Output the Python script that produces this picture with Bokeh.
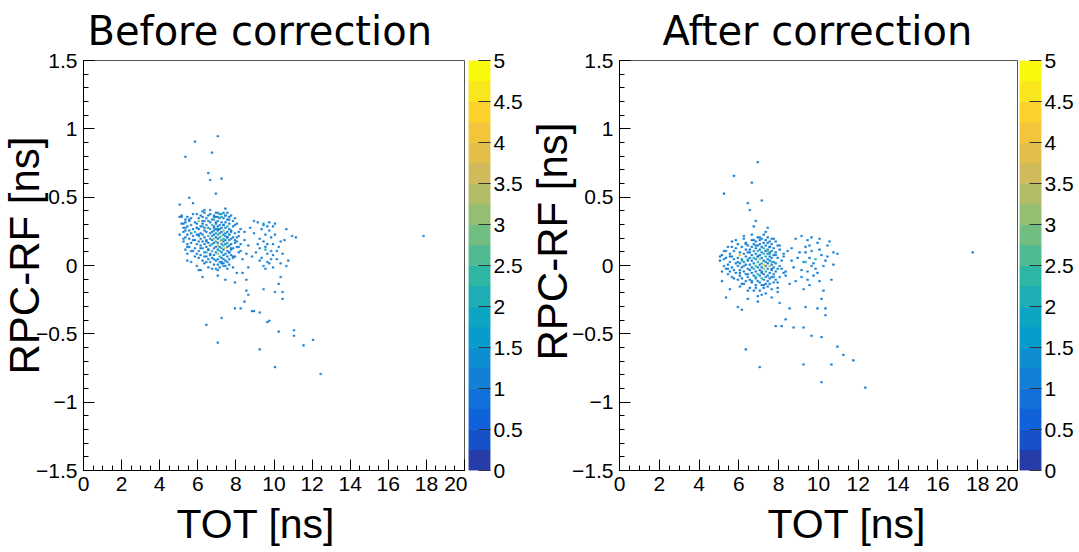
import math
from bokeh.plotting import figure
from bokeh.layouts import row
from bokeh.models import SingleIntervalTicker, FixedTicker, Title, ColumnDataSource, CustomJSTickFormatter
from bokeh.transform import linear_cmap
from bokeh.embed import file_html
from bokeh.resources import INLINE

# ---------------- data ----------------
BIN_W = 0.1    # TOT bin width [ns]
BIN_H = 0.012  # RPC-RF bin width [ns]

# colour-bar contour levels
z_levels = [0, 0.25, 0.5, 0.75, 1.0, 1.25, 1.5, 1.75, 2.0, 2.25, 2.5,
            2.75, 3.0, 3.25, 3.5, 3.75, 4.0, 4.25, 4.5, 4.75, 5.0]
z_ticks = [0, 0.5, 1, 1.5, 2, 2.5, 3, 3.5, 4, 4.5, 5]

# "Before correction": main cluster, rows of single-entry bins
before_row_dt = [0.38, 0.37, 0.36, 0.35, 0.34, 0.33, 0.32, 0.31, 0.30, 0.29,
                 0.28, 0.27, 0.26, 0.25, 0.24, 0.23, 0.22, 0.21, 0.20, 0.19,
                 0.18, 0.17, 0.16, 0.15, 0.14, 0.13, 0.12, 0.11, 0.10, 0.09,
                 0.08, 0.07, 0.06, 0.05, 0.04, 0.03, 0.02, 0.01, 0.00, -0.01,
                 -0.02, -0.03, -0.04]
before_row_tot = [
    [6.3, 6.9, 7.0, 7.3, 7.5],
    [5.7, 6.6, 7.1],
    [6.1, 6.5, 6.8, 7.4, 7.7],
    [5.0, 5.1, 5.4, 6.2, 6.9, 7.0, 7.6],
    [5.6, 6.0, 6.4, 7.1, 7.3, 7.9],
    [5.3, 6.7, 7.5],
    [5.5, 6.3, 6.5, 7.0, 7.8],
    [5.8, 6.6, 7.2, 7.4],
    [5.2, 5.9, 6.2, 6.9, 7.6, 8.0],
    [5.6, 6.4, 7.1, 7.3],
    [5.4, 6.1, 6.8, 7.0, 7.8],
    [5.3, 5.9, 6.5, 7.2, 7.4],
    [5.7, 6.0, 6.9, 7.1, 7.6, 8.2],
    [5.5, 6.3, 6.8, 7.0, 7.7],
    [5.2, 6.4, 6.7, 7.2, 7.5],
    [5.6, 6.1, 6.6, 7.1, 7.4, 7.9],
    [5.4, 5.9, 6.2, 6.8, 7.3, 7.6],
    [5.7, 6.0, 6.7, 7.4, 8.1],
    [5.3, 6.3, 6.9, 7.5, 7.8],
    [5.5, 6.1, 6.6, 7.0, 7.7],
    [5.8, 6.4, 6.7, 7.4, 7.6],
    [5.2, 6.0, 6.2, 7.3, 8.0],
    [5.6, 6.5, 6.8, 7.0, 7.9],
    [5.4, 5.9, 6.3, 7.2, 7.4, 7.7],
    [6.1, 6.6, 7.6],
    [5.5, 6.4, 6.9, 7.1, 7.5, 8.0],
    [5.8, 6.2, 6.8, 7.8],
    [5.3, 6.5, 7.0, 7.3, 7.7],
    [5.7, 6.0, 7.5],
    [6.3, 6.9, 7.2, 7.6, 8.1],
    [5.9, 6.6, 7.4],
    [6.1, 6.8, 7.3, 7.7],
    [6.4, 7.5, 7.9],
    [6.0, 6.7, 7.2, 7.8],
    [6.5, 7.0, 7.3, 7.6],
    [5.4, 6.2, 6.9, 7.4],
    [6.6, 7.1, 7.5],
    [6.3, 7.2, 7.3],
    [6.8, 7.0, 7.6],
    [5.9, 7.3, 7.4],
    [6.5, 7.1, 7.8],
    [6.7, 7.5],
    [6.1, 7.0],
]
# "Before correction": scattered single-entry bins
before_sc_tot = [7.0, 5.8, 6.7, 5.3, 6.5, 6.6, 7.2, 6.9, 5.5, 5.7,
                 5.0, 7.4, 6.3, 8.5, 9.4, 10.0, 10.4, 8.6, 8.4, 10.4,
                 7.9, 8.2, 8.8, 8.9, 9.2, 7.2, 9.7, 9.6, 6.4, 10.2,
                 11.0, 11.0, 12.0, 11.5, 7.0, 9.2, 10.0, 12.4, 17.8, 8.5,
                 7.9, 10.3, 10.2, 7.4, 7.0, 6.2, 6.0, 8.6, 10.6, 8.0,
                 8.9, 9.1, 9.4, 9.7, 10.0, 9.6, 9.9, 10.6, 10.9, 11.1,
                 8.4, 8.9, 9.2, 9.5, 9.8, 10.3, 9.6, 9.9, 9.1, 9.2,
                 9.5, 9.8, 10.2, 9.6, 9.3, 9.6, 9.7, 9.4, 9.9, 9.2,
                 8.8, 8.5, 8.3, 8.1, 8.0, 8.4, 8.6, 10.4, 10.1, 10.3,
                 10.7, 9.0, 9.4, 10.0, 9.7, 9.3, 10.5, 8.7, 9.9, 10.1,
                 9.5, 9.8, 5.1, 5.3, 5.2, 5.0, 5.6, 5.4, 8.2, 8.3,
                 5.1, 5.3, 5.2, 5.4, 5.6, 5.8, 5.5, 5.9, 6.2, 6.6,
                 6.8, 7.6, 7.9, 8.1, 7.9, 8.2, 7.8, 7.2, 6.4, 6.1,
                 6.3, 6.9, 7.3, 6.4, 6.6, 6.0, 6.8, 7.7, 7.5, 6.2,
                 5.7, 6.9, 7.6, 6.3, 7.0, 6.5, 5.9, 7.4, 6.8, 7.7]
before_sc_dt = [0.94, 0.90, 0.82, 0.79, 0.67, 0.62, 0.63, 0.52, 0.49, 0.45,
                0.44, 0.41, 0.40, -0.19, -0.18, -0.20, -0.20, -0.22, -0.27, -0.25,
                -0.32, -0.32, -0.34, -0.34, -0.35, -0.39, -0.41, -0.42, -0.44, -0.49,
                -0.48, -0.52, -0.55, -0.59, -0.57, -0.62, -0.75, -0.80, 0.21, -0.11,
                -0.13, -0.09, -0.14, -0.11, -0.08, -0.09, -0.04, -0.02, -0.01, -0.06,
                0.32, 0.31, 0.29, 0.31, 0.30, 0.28, 0.28, 0.26, 0.21, 0.20,
                0.24, 0.23, 0.19, 0.22, 0.20, 0.17, 0.15, 0.15, 0.15, 0.12,
                0.13, 0.10, 0.13, 0.08, 0.05, 0.02, 0.01, -0.01, -0.02, 0.03,
                0.06, 0.08, 0.04, 0.13, 0.20, 0.18, 0.14, 0.08, 0.04, 0.01,
                0.03, 0.09, 0.17, 0.22, 0.25, 0.26, 0.18, 0.27, 0.07, 0.10,
                -0.03, 0.04, 0.36, 0.31, 0.27, 0.22, 0.02, 0.08, 0.10, -0.06,
                0.30, 0.25, 0.19, 0.13, 0.10, 0.06, 0.33, 0.37, 0.39, 0.40,
                0.35, 0.33, 0.29, 0.24, 0.18, 0.15, 0.06, 0.02, 0.02, 0.12,
                0.27, 0.31, 0.29, 0.17, 0.07, 0.22, 0.04, 0.12, 0.20, 0.32,
                0.18, -0.03, 0.09, 0.06, 0.26, 0.11, 0.27, 0.36, 0.27, 0.24]
# "Before correction": bins with more than one entry
before_hot_tot = [7.2, 7.2, 6.8, 6.0, 6.7, 7.5, 6.6, 7.3, 5.8, 6.9,
                  7.0, 6.5, 7.2, 7.1, 6.8, 7.3, 7.2, 6.9, 7.1, 7.5,
                  6.7, 7.0, 7.3, 7.2, 7.4, 6.7, 7.1, 7.0, 7.1, 9.5,
                  6.2, 5.6, 7.6, 6.4, 9.4]
before_hot_dt = [0.37, 0.35, 0.33, 0.32, 0.29, 0.28, 0.26, 0.25, 0.24, 0.23,
                 0.22, 0.21, 0.21, 0.20, 0.19, 0.19, 0.18, 0.17, 0.17, 0.16,
                 0.15, 0.14, 0.14, 0.12, 0.12, 0.10, 0.10, 0.08, 0.06, 0.11,
                 0.28, 0.23, 0.22, 0.09, 0.30]
before_hot_counts = [2, 2, 2, 3, 2, 2, 2, 3, 2, 2,
                     2, 2, 3, 2, 3, 2, 2, 2, 4, 2,
                     2, 3, 2, 2, 4, 2, 2, 3, 2, 2,
                     2, 2, 2, 2, 2]

# "After correction": main cluster rows of single-entry bins
after_row_dt = [0.20, 0.19, 0.18, 0.17, 0.16, 0.15, 0.14, 0.13, 0.12, 0.11,
                0.10, 0.09, 0.08, 0.07, 0.06, 0.05, 0.04, 0.03, 0.02, 0.01,
                0.00, -0.01, -0.02, -0.03, -0.04, -0.05, -0.06, -0.07, -0.08, -0.09,
                -0.10, -0.11, -0.12, -0.13, -0.14, -0.15, -0.16, -0.17, -0.19, -0.21,
                -0.23]
after_row_tot = [
    [6.9, 7.4],
    [6.2, 7.1, 7.6],
    [6.6, 7.0, 7.3],
    [5.6, 6.8, 7.5, 7.8],
    [6.3, 7.2, 7.4],
    [5.9, 6.7, 7.0, 7.6],
    [6.4, 6.9, 7.3, 7.9],
    [5.4, 6.1, 6.6, 7.1, 7.5],
    [5.8, 6.8, 7.7],
    [6.3, 6.5, 7.0, 7.4, 8.0],
    [5.2, 5.7, 6.7, 7.3, 7.6],
    [6.0, 6.4, 7.1, 7.5, 7.8],
    [5.5, 6.2, 6.8, 7.4, 8.2],
    [5.1, 6.6, 7.0, 7.7],
    [5.6, 6.3, 6.9, 7.5],
    [5.3, 5.9, 6.5, 7.1, 7.6, 7.9],
    [5.7, 6.1, 6.8, 7.4],
    [5.0, 6.4, 6.6, 7.2, 7.5, 8.1],
    [5.5, 6.2, 7.3, 7.7],
    [5.8, 6.0, 6.7, 7.4, 7.8],
    [5.4, 6.3, 6.5, 7.0, 7.6],
    [5.2, 5.9, 7.3, 8.0],
    [5.6, 6.1, 6.6, 6.9, 7.1, 7.7],
    [5.3, 6.4, 7.4, 7.9],
    [5.7, 6.0, 6.5, 7.0, 7.6],
    [5.5, 6.2, 6.8, 7.8],
    [5.8, 6.6, 7.1, 7.5, 8.2],
    [5.4, 6.3, 7.2, 7.7],
    [6.0, 6.7, 7.0, 7.4],
    [5.6, 6.4, 7.3, 7.6, 8.0],
    [6.1, 6.8, 7.5],
    [5.9, 6.5, 7.2, 7.8],
    [6.3, 6.9, 7.4],
    [6.6, 7.0, 7.7],
    [6.2, 7.3, 7.5],
    [6.8, 7.1],
    [6.0, 7.4],
    [6.5, 7.2, 7.9],
    [6.7, 7.0],
    [7.3],
    [6.9],
]
after_sc_tot = [6.9, 5.7, 6.6, 5.2, 6.4, 7.1, 6.5, 6.8, 6.7, 7.4,
                7.2, 5.3, 5.9, 6.1, 6.9, 8.5, 8.3, 8.1, 7.8, 8.7,
                9.2, 9.6, 9.3, 9.9, 10.3, 10.3, 10.1, 10.6, 10.2, 8.5,
                6.3, 7.0, 9.2, 10.1, 10.9, 11.2, 11.7, 10.6, 10.1, 12.3,
                17.7, 5.0, 5.1, 8.3, 8.4, 7.9, 6.4, 7.6, 8.0, 5.5,
                9.1, 9.4, 9.6, 10.0, 8.8, 9.5, 9.9, 10.4, 10.7, 10.9,
                8.6, 9.0, 9.3, 9.6, 10.1, 10.4, 9.5, 9.2, 9.7, 9.6,
                9.4, 9.9, 9.1, 8.7, 8.6, 10.2, 10.7, 9.4, 9.7, 9.1,
                9.3, 10.0, 9.8, 10.3, 8.9, 9.5, 10.0, 9.2, 8.8, 10.5,
                5.2, 5.4, 5.1, 5.3, 5.6, 5.8, 6.2, 6.6, 7.3, 7.7,
                8.0, 8.2, 8.1, 8.3, 7.9, 7.6, 7.1, 6.4, 6.1, 5.7,
                6.5, 6.9, 7.1, 6.4, 6.8, 7.6, 6.2, 7.3, 6.0, 7.8,
                6.6, 7.5, 6.3, 5.9, 7.2, 6.7, 7.0, 5.5, 6.8, 7.7]
after_sc_dt = [0.75, 0.65, 0.60, 0.52, 0.45, 0.47, 0.40, 0.32, 0.28, 0.27,
               0.22, -0.24, -0.31, -0.33, -0.27, -0.32, -0.40, -0.45, -0.45, -0.46,
               -0.46, -0.52, -0.31, -0.32, -0.32, -0.37, -0.25, -0.11, -0.19, -0.14,
               -0.62, -0.75, -0.73, -0.53, -0.60, -0.66, -0.70, -0.73, -0.86, -0.90,
               0.09, 0.06, -0.12, -0.05, 0.10, -0.20, -0.25, -0.24, -0.28, -0.18,
               0.21, 0.18, 0.20, 0.19, 0.19, 0.14, 0.16, 0.14, 0.09, 0.08,
               0.12, 0.09, 0.09, 0.10, 0.07, 0.06, 0.05, 0.02, 0.01, -0.01,
               -0.05, -0.06, -0.04, -0.02, 0.03, -0.01, 0.00, -0.11, -0.08, -0.09,
               0.13, 0.11, -0.03, 0.03, 0.05, -0.15, -0.12, -0.18, -0.12, 0.17,
               0.04, -0.03, -0.05, 0.10, 0.13, 0.18, 0.21, 0.22, 0.24, 0.19,
               0.14, 0.06, -0.03, -0.08, -0.13, -0.18, -0.22, -0.19, -0.14, -0.10,
               0.09, 0.06, -0.05, -0.07, 0.14, -0.03, -0.01, 0.10, -0.06, 0.07,
               -0.12, 0.13, 0.15, 0.02, -0.15, 0.18, 0.20, 0.06, -0.17, -0.09]
after_hot_tot = [7.2, 6.9, 7.2, 6.0, 7.3, 6.7, 7.0, 6.9, 7.1, 7.2,
                 6.8, 7.5, 6.7, 7.2, 7.3, 6.9, 7.1, 9.8, 6.1, 7.6,
                 6.4, 7.5, 6.8, 9.3, 7.4]
after_hot_dt = [0.12, 0.10, 0.08, 0.07, 0.06, 0.05, 0.04, 0.02, 0.01, 0.00,
                -0.01, -0.01, -0.03, -0.03, -0.05, -0.07, -0.10, 0.04, 0.03, 0.02,
                0.04, 0.08, -0.09, 0.02, 0.10]
after_hot_counts = [2, 2, 2, 4, 2, 2, 3, 2, 2, 4,
                    2, 3, 2, 3, 2, 2, 2, 2, 2, 2,
                    2, 2, 2, 2, 3]

# ---------------- palette (ROOT kBird, 20 contours) ----------------
bird_stops = [0.0, 0.125, 0.25, 0.375, 0.5, 0.625, 0.75, 0.875, 1.0]
bird_r = [0.2082, 0.0592, 0.0780, 0.0232, 0.1802, 0.5301, 0.8186, 0.9956, 0.9764]
bird_g = [0.1664, 0.3599, 0.5041, 0.6419, 0.7178, 0.7492, 0.7328, 0.7862, 0.9832]
bird_b = [0.5293, 0.8684, 0.8385, 0.7914, 0.6425, 0.4662, 0.3499, 0.1968, 0.0539]


def bird(t):
    for k in range(1, len(bird_stops)):
        if t <= bird_stops[k] + 1e-9:
            f = (t - bird_stops[k - 1]) / (bird_stops[k] - bird_stops[k - 1])
            r = bird_r[k - 1] + f * (bird_r[k] - bird_r[k - 1])
            g = bird_g[k - 1] + f * (bird_g[k] - bird_g[k - 1])
            b = bird_b[k - 1] + f * (bird_b[k] - bird_b[k - 1])
            return "#%02x%02x%02x" % (int(r * 255), int(g * 255), int(b * 255))
    return "#f9fb0e"


NCONT = len(z_levels) - 1
palette = [bird(int((i + 0.99) * 255 / NCONT) / 255.0) for i in range(NCONT)]

TICK_FONT = "Liberation Sans"
LABEL_FONT = "Liberation Sans"
TITLE_FONT = "DejaVu Sans"


def build_cells(row_dt, row_tot, sc_tot, sc_dt, hot_tot, hot_dt, hot_c):
    xs, ys, cs = [], [], []
    for y, xrow in zip(row_dt, row_tot):
        for x in xrow:
            xs.append(x); ys.append(y); cs.append(1)
    for x, y in zip(sc_tot, sc_dt):
        xs.append(x); ys.append(y); cs.append(1)
    for x, y, c in zip(hot_tot, hot_dt, hot_c):
        xs.append(x); ys.append(y); cs.append(c)
    return ColumnDataSource(dict(
        left=xs, right=[x + BIN_W for x in xs],
        bottom=ys, top=[y + BIN_H for y in ys], count=cs))


minus_fmt = CustomJSTickFormatter(code="""
    const s = Math.abs(tick).toString();
    return (tick < 0 ? '\u2212' : '') + s;
""")


def make_panel(src, w_left, w_frame, w_right, h_top, h_frame, h_bottom,
               title, title_off, xlab_off, ylab_off, ylab_standoff, ylab_size):
    p = figure(width=w_left + w_frame + w_right, height=h_top + h_frame + h_bottom,
               x_range=(0, 20), y_range=(-1.5, 1.5),
               output_backend="svg", toolbar_location=None,
               min_border_left=w_left, min_border_right=w_right,
               min_border_top=h_top, min_border_bottom=h_bottom)
    p.grid.visible = False
    p.outline_line_color = "#555555"
    p.outline_line_width = 1
    p.background_fill_color = "white"
    p.border_fill_color = "white"

    cmap = linear_cmap("count", palette, z_levels[0], z_levels[-1])
    p.quad(left="left", right="right", bottom="bottom", top="top", source=src,
           fill_color=cmap, line_color=cmap, line_width=0.4)

    p.xaxis.ticker = SingleIntervalTicker(interval=2, num_minor_ticks=4)
    p.yaxis.ticker = SingleIntervalTicker(interval=0.5, num_minor_ticks=5)
    p.yaxis.formatter = minus_fmt
    for ax in (p.xaxis[0], p.yaxis[0]):
        ax.major_tick_in = 11
        ax.major_tick_out = 0
        ax.minor_tick_in = 5
        ax.minor_tick_out = 0
        ax.axis_line_color = "black"
        ax.major_tick_line_color = "black"
        ax.minor_tick_line_color = "black"
        ax.major_label_text_font = TICK_FONT
        ax.major_label_text_font_size = "21px"
        ax.major_label_text_color = "black"
    p.xaxis.major_label_standoff = 6
    p.yaxis.major_label_standoff = 6

    p.add_layout(Title(text=title, align="left", offset=title_off,
                       vertical_align="top", standoff=10,
                       text_font=TITLE_FONT, text_font_size="40px",
                       text_font_style="normal", text_color="black"), "above")
    p.add_layout(Title(text="TOT [ns]", align="left", offset=xlab_off,
                       vertical_align="bottom", standoff=10,
                       text_font=LABEL_FONT, text_font_size="41px",
                       text_font_style="normal", text_color="black"), "below")
    p.add_layout(Title(text="RPC-RF [ns]", align="left", offset=ylab_off,
                       vertical_align="bottom", standoff=ylab_standoff,
                       text_font=LABEL_FONT, text_font_size=ylab_size,
                       text_font_style="normal", text_color="black"), "left")
    return p


def make_cbar(w_left, w_frame, w_right, h_top, h_frame, h_bottom):
    cb = figure(width=w_left + w_frame + w_right, height=h_top + h_frame + h_bottom,
                x_range=(0, 1), y_range=(z_levels[0], z_levels[-1]),
                output_backend="svg", toolbar_location=None,
                x_axis_location=None, y_axis_location="right",
                min_border_left=w_left, min_border_right=w_right,
                min_border_top=h_top, min_border_bottom=h_bottom)
    cb.grid.visible = False
    cb.outline_line_color = None
    cb.background_fill_color = "white"
    cb.border_fill_color = "white"
    csrc = ColumnDataSource(dict(bottom=z_levels[:-1], top=z_levels[1:], color=palette))
    cb.quad(left=0, right=1, bottom="bottom", top="top", fill_color="color",
            line_color="color", line_width=0.5, source=csrc)
    ax = cb.yaxis[0]
    ax.ticker = FixedTicker(ticks=z_ticks)
    ax.formatter = minus_fmt
    ax.axis_line_color = None
    ax.major_tick_in = 12
    ax.major_tick_out = 0
    ax.major_tick_line_color = "#333333"
    ax.minor_tick_line_color = None
    ax.major_label_standoff = 3
    ax.major_label_text_font = TICK_FONT
    ax.major_label_text_font_size = "21px"
    ax.major_label_text_color = "black"
    return cb


src_before = build_cells(before_row_dt, before_row_tot, before_sc_tot, before_sc_dt,
                         before_hot_tot, before_hot_dt, before_hot_counts)
src_after = build_cells(after_row_dt, after_row_tot, after_sc_tot, after_sc_dt,
                        after_hot_tot, after_hot_dt, after_hot_counts)

p1 = make_panel(src_before, 83, 381, 3, 59, 411, 82, "Before correction",
                4, 93, 96, -29, "42px")
c1 = make_cbar(1, 22, 40, 59, 411, 82)
p2 = make_panel(src_after, 89, 398, 1, 60, 414, 78, "After correction",
                43, 148, 110, -13, "42px")
c2 = make_cbar(1, 22, 38, 60, 414, 78)

layout = row(p1, c1, p2, c2)
open("out.html", "w").write(file_html(layout, INLINE))
